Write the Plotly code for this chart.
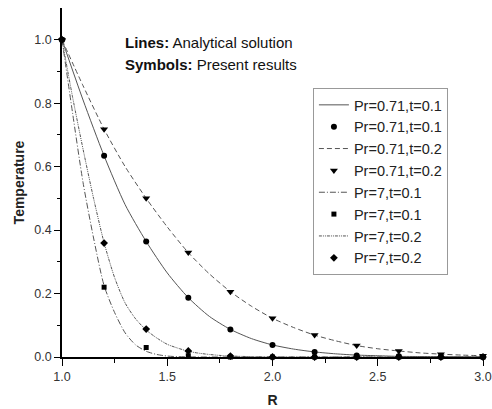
import plotly.graph_objects as go

# Analytical solution lines
x_line_a = [1.0, 1.1, 1.2, 1.3, 1.4, 1.5, 1.6, 1.7, 1.8, 1.9, 2.0, 2.1, 2.2, 2.3, 2.4, 2.5, 2.6, 2.7, 2.8, 2.9, 3.0]
line_071_01 = [1.0, 0.81, 0.634, 0.48, 0.364, 0.265, 0.187, 0.128, 0.087, 0.058, 0.038, 0.025, 0.016, 0.010, 0.006, 0.004, 0.002, 0.0015, 0.001, 0.0005, 0.0]
line_071_02 = [1.0, 0.855, 0.718, 0.60, 0.50, 0.41, 0.329, 0.262, 0.206, 0.16, 0.122, 0.093, 0.069, 0.051, 0.036, 0.026, 0.019, 0.013, 0.009, 0.006, 0.004]

x_line_b = [1.0, 1.05, 1.1, 1.15, 1.2, 1.25, 1.3, 1.35, 1.4, 1.45, 1.5, 1.55, 1.6, 1.65, 1.7, 1.75, 1.8, 1.85, 1.9, 1.95, 2.0, 2.5, 3.0]
line_7_01 = [1.0, 0.77, 0.55, 0.375, 0.225, 0.14, 0.076, 0.038, 0.018, 0.008, 0.003, 0.001, 0.0005, 0.0, 0.0, 0.0, 0.0, 0.0, 0.0, 0.0, 0.0, 0.0, 0.0]
line_7_02 = [1.0, 0.82, 0.655, 0.50, 0.36, 0.25, 0.17, 0.12, 0.085, 0.06, 0.04, 0.028, 0.018, 0.012, 0.008, 0.005, 0.003, 0.002, 0.001, 0.0005, 0.0, 0.0, 0.0]

# Present results (symbols)
x_sym = [1.0, 1.2, 1.4, 1.6, 1.8, 2.0, 2.2, 2.4, 2.6, 2.8, 3.0]
sym_071_01 = [1.0, 0.634, 0.364, 0.187, 0.087, 0.038, 0.016, 0.005, 0.002, 0.001, 0.0]
sym_071_02 = [1.0, 0.718, 0.50, 0.329, 0.206, 0.122, 0.069, 0.036, 0.019, 0.009, 0.004]
sym_7_01 = [1.0, 0.22, 0.03, 0.004, 0.0, 0.0, 0.0, 0.0, 0.0, 0.0, 0.0]
sym_7_02 = [1.0, 0.359, 0.088, 0.019, 0.003, 0.0, 0.0, 0.0, 0.0, 0.0, 0.0]

names = ["Pr=0.71,t=0.1", "Pr=0.71,t=0.2", "Pr=7,t=0.1", "Pr=7,t=0.2"]

LC = "#555555"
fig = go.Figure()

def add_line(x, y, name, dash):
    fig.add_trace(go.Scatter(x=x, y=y, mode="lines", name=name,
                             line=dict(color=LC, width=1, dash=dash, shape="spline", smoothing=0.7),
                             cliponaxis=True))

def add_sym(x, y, name, symbol, size):
    fig.add_trace(go.Scatter(x=x, y=y, mode="markers", name=name,
                             marker=dict(symbol=symbol, size=size, color="black"),
                             cliponaxis=False))

add_line(x_line_a, line_071_01, names[0], "solid")
add_sym(x_sym, sym_071_01, names[0], "circle", 6)
add_line(x_line_a, line_071_02, names[1], "5px,3px")
add_sym(x_sym, sym_071_02, names[1], "triangle-down", 7)
add_line(x_line_b, line_7_01, names[2], "6px,2px,1px,2px")
add_sym(x_sym, sym_7_01, names[2], "square", 5)
add_line(x_line_b, line_7_02, names[3], "3px,1px,1px,1px,1px,1px")
add_sym(x_sym, sym_7_02, names[3], "diamond", 6)

FONT = "Liberation Sans, Arial, sans-serif"

fig.update_layout(
    width=492, height=409,
    margin=dict(l=62, r=9, t=8, b=52, autoexpand=False),
    paper_bgcolor="white", plot_bgcolor="white",
    font=dict(family=FONT, color="#333333", size=12.5),
    showlegend=True,
    legend=dict(x=0.596, y=0.771, xanchor="left", yanchor="top",
                bordercolor="#999999", borderwidth=1, bgcolor="white",
                font=dict(family=FONT, size=14.5, color="#222222"),
                tracegroupgap=0, itemwidth=30),
    xaxis=dict(range=[1.0, 3.0], tick0=1.0, dtick=0.5, tickformat=".1f", automargin=False,
               showline=True, linecolor="black", linewidth=1.5,
               ticks="outside", ticklen=7, tickwidth=1.2, tickcolor="black",
               minor=dict(dtick=0.25, ticks="outside", ticklen=4, tickcolor="black", tickwidth=1),
               showgrid=False, zeroline=False,
               title=dict(text="<b>R</b>", font=dict(size=14, color="#222222"), standoff=12)),
    yaxis=dict(range=[0.0, 1.1], tickvals=[0.0, 0.2, 0.4, 0.6, 0.8, 1.0], tickformat=".1f", automargin=False,
               showline=True, linecolor="black", linewidth=1.5,
               ticks="outside", ticklen=6, tickwidth=1.2, tickcolor="black",
               minor=dict(tickvals=[0.1, 0.3, 0.5, 0.7, 0.9], ticks="outside", ticklen=3, tickcolor="black", tickwidth=1),
               showgrid=False, zeroline=False,
               title=dict(text="<b>Temperature</b>", font=dict(size=14, color="#222222"), standoff=6)),
)

# Text annotations, positioned in paper coordinates
fig.add_annotation(x=(123 - 62) / 421, y=(357 - 42) / 349, xref="paper", yref="paper",
                   text="<b>Lines:</b> Analytical solution", showarrow=False,
                   xanchor="left", yanchor="middle", font=dict(family=FONT, size=15, color="#111111"))
fig.add_annotation(x=(123 - 62) / 421, y=(357 - 64) / 349, xref="paper", yref="paper",
                   text="<b>Symbols:</b> Present results", showarrow=False,
                   xanchor="left", yanchor="middle", font=dict(family=FONT, size=15, color="#111111"))

fig.write_html("out.html")
